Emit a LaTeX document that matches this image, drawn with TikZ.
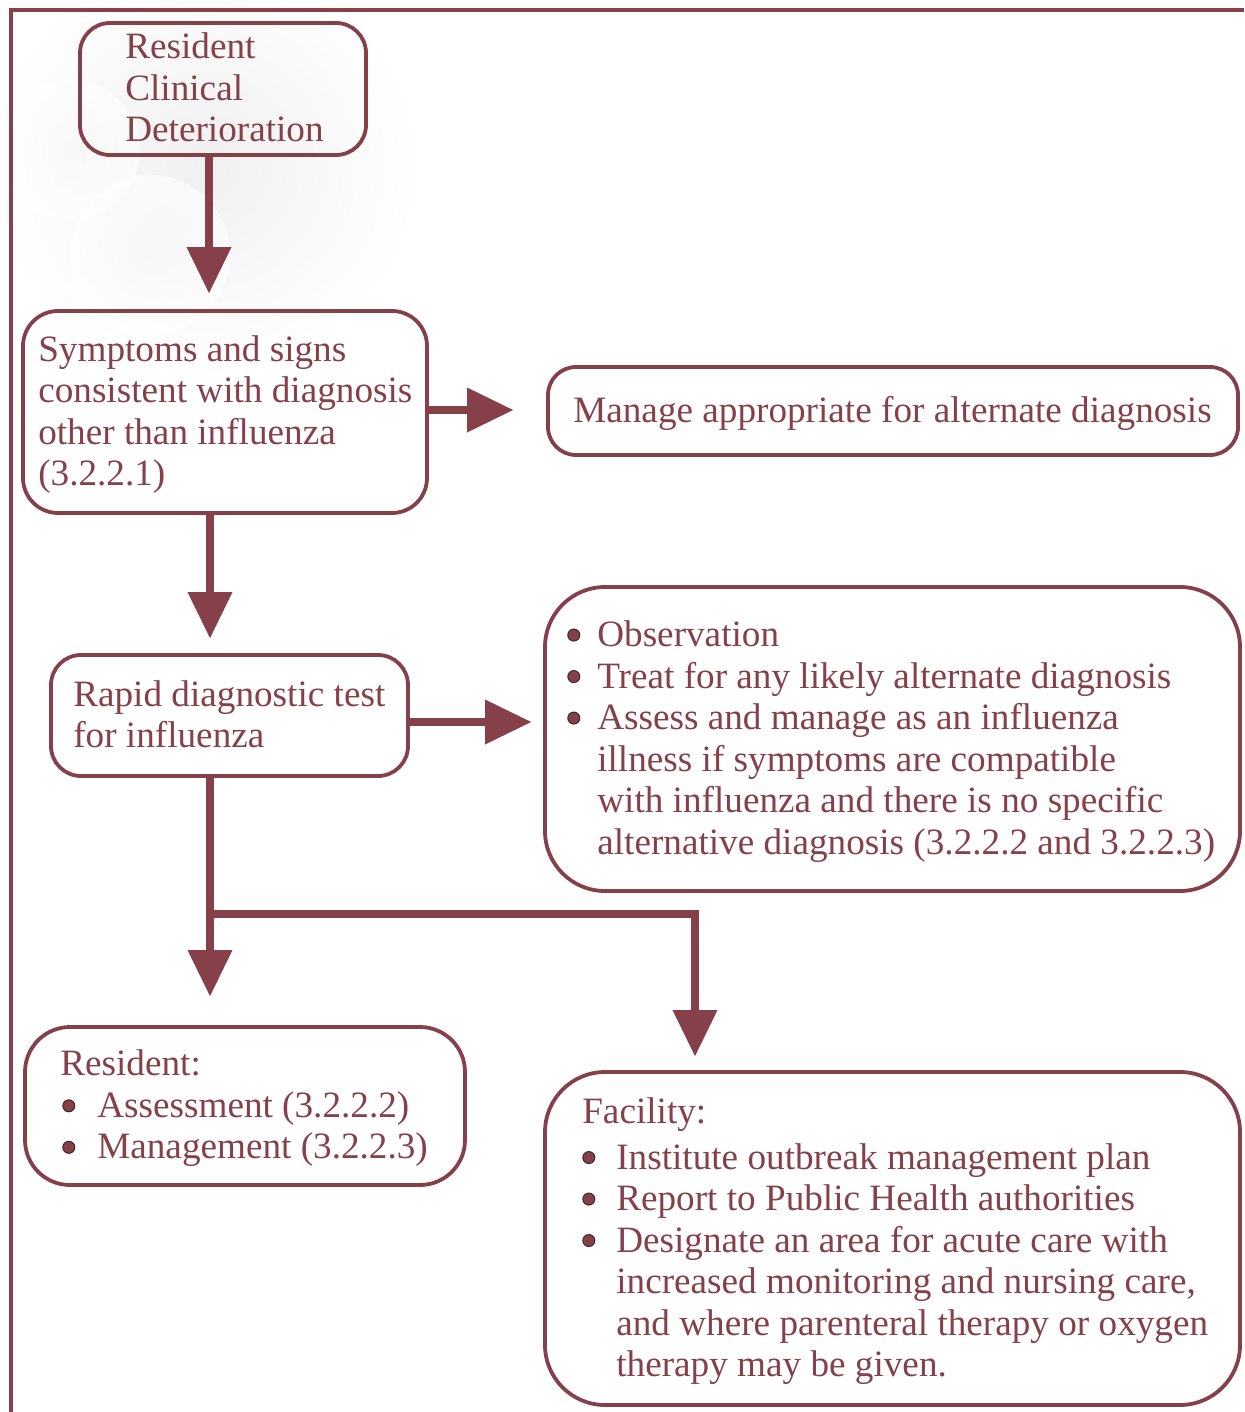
\documentclass[tikz,border=0pt]{standalone}
\usepackage{fontspec}
\setmainfont{Liberation Serif}
\usetikzlibrary{arrows.meta}
\definecolor{maroon}{RGB}{134,64,74}
\definecolor{bulletedge}{RGB}{60,40,45}
% round list marker followed by a fixed gap
\newcommand\blt[1]{\makebox[#1][l]{\raisebox{5pt}{\tikz\filldraw[fill=maroon,draw=bulletedge,line width=1pt] (0,0) circle (6pt);}}}
\begin{document}
\begin{tikzpicture}[x=1pt,y=-1pt,
  box/.style={draw=maroon, line width=3.8pt, rectangle, inner sep=0pt},
  txt/.style={text=maroon, align=left, inner sep=0pt, anchor=west, yshift=-3pt,
              font=\fontsize{37.2}{41.5}\selectfont},
  flow/.style={maroon, line width=8pt, line join=miter,
               -{Triangle[width=45pt,length=46pt,line width=0pt]}}]
\useasboundingbox (0,0) rectangle (1244,1412);

% faint watermark in the upper left
\shade[inner color=black!6, outer color=white] (205,165) circle (215pt);
\shade[inner color=black!3, outer color=black!0, opacity=0.6] (70,150) circle (70pt);
\shade[inner color=black!3, outer color=black!0, opacity=0.6] (150,255) circle (80pt);

% page frame (top and left rules)
\draw[maroon, line width=4.5pt] (11,1412) -- (11,10) -- (1244,10);

% boxes
\node[box, minimum width=286pt, minimum height=132pt, rounded corners=30pt] (b1) at (223,89) {};
\node[txt] (t1) at ([xshift=47pt]b1.west) {\strut Resident\\Clinical\\Deterioration\strut};

\node[box, minimum width=404pt, minimum height=202pt, rounded corners=35pt] (b2) at (225,412) {};
\node[txt] (t2) at ([xshift=17pt]b2.west) {\strut Symptoms and signs\\consistent with diagnosis\\other than influenza\\(3.2.2.1)\strut};

\node[box, minimum width=690pt, minimum height=88pt, rounded corners=28pt] (b3) at (893,411) {};
\node[txt] (t3) at ([xshift=27pt]b3.west) {\strut Manage appropriate for alternate diagnosis\strut};

\node[box, minimum width=357pt, minimum height=121pt, rounded corners=30pt] (b4) at (229.5,715.5) {};
\node[txt] (t4) at ([xshift=24pt]b4.west) {\strut Rapid diagnostic test\\for influenza\strut};

\node[box, minimum width=695pt, minimum height=304pt, rounded corners=60pt] (b5) at (892.5,739) {};
\node[txt] (t5) at ([xshift=24pt]b5.west) {\strut\blt{30pt}Observation\\
\blt{30pt}Treat for any likely alternate diagnosis\\
\blt{30pt}Assess and manage as an influenza\\
\hspace*{30pt}illness if symptoms are compatible\\
\hspace*{30pt}with influenza and there is no specific\\
\hspace*{30pt}alternative diagnosis (3.2.2.2 and 3.2.2.3)\strut};

\node[box, minimum width=440pt, minimum height=158pt, rounded corners=45pt] (b6) at (245,1106) {};
\node[txt] (t6) at ([xshift=37pt]b6.west) {\strut Resident:\\
\hspace*{2pt}\blt{35pt}Assessment (3.2.2.2)\\
\hspace*{2pt}\blt{35pt}Management (3.2.2.3)\strut};

\node[box, minimum width=695pt, minimum height=333pt, rounded corners=60pt] (b7) at (892.5,1238.5) {};
\node[txt] (t7) at ([xshift=39pt]b7.west) {\strut Facility:\\[4.5pt]
\blt{34pt}Institute outbreak management plan\\
\blt{34pt}Report to Public Health authorities\\
\blt{34pt}Designate an area for acute care with\\
\hspace*{34pt}increased monitoring and nursing care,\\
\hspace*{34pt}and where parenteral therapy or oxygen\\
\hspace*{34pt}therapy may be given.\strut};

% connector guides
\coordinate (cA) at (209,0);
\coordinate (cB) at (210,0);
\coordinate (cC) at (695,0);
\coordinate (rA) at (0,410);
\coordinate (rB) at (0,722);
\coordinate (split) at (210,914);

% connectors
\draw[flow, shorten >=16pt] (b1.south -| cA) -- (b2.north -| cA);
\draw[flow, shorten >=33pt] (b2.east |- rA) -- (b3.west |- rA);
\draw[flow, shorten >=15pt] (b2.south -| cB) -- (b4.north -| cB);
\draw[flow, shorten >=12pt] (b4.east |- rB) -- (b5.west |- rB);
\draw[flow, shorten >=29pt] (b4.south -| cB) -- (b6.north -| cB);
\draw[flow, shorten >=14pt] (split) -- (split -| cC) -- (b7.north -| cC);
\end{tikzpicture}
\end{document}
